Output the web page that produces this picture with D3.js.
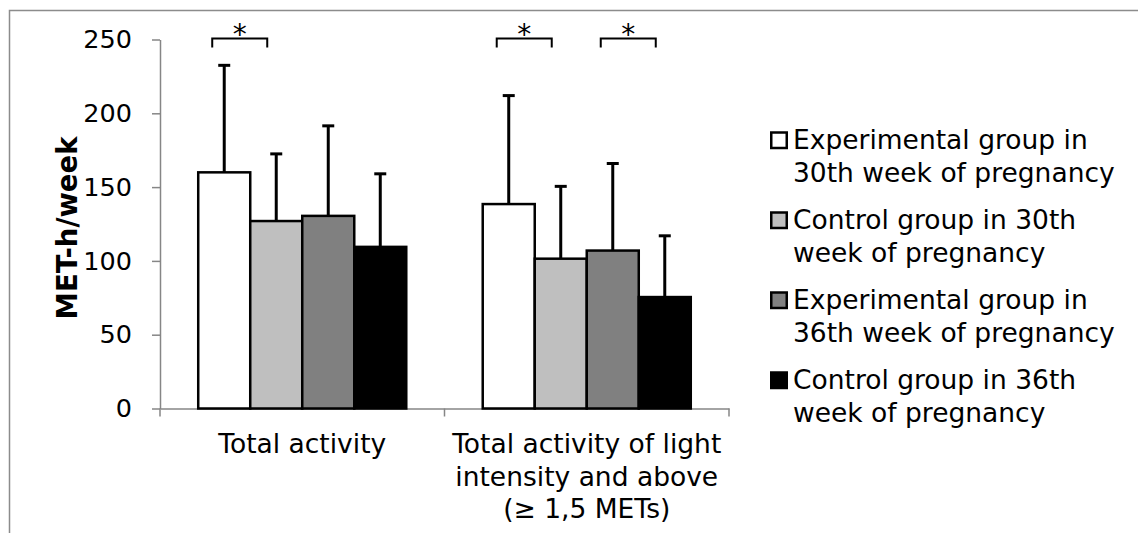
<!DOCTYPE html>
<html>
<head>
<meta charset="utf-8">
<script src="https://cdn.jsdelivr.net/npm/d3@7"></script>
<style>
  body { margin: 0; background: #fff; }
  svg { display: block; }
  svg text { font-family: "DejaVu Sans", Verdana, sans-serif; }
</style>
</head>
<body>
<div class="chart"></div>
<script>
// categories and series
var categories = ["Total activity", "Total activity of light intensity and above (≥ 1,5 METs)"];
var categoryLines = [["Total activity"], ["Total activity of light", "intensity and above", "(≥ 1,5 METs)"]];
var series = ["exp30", "ctl30", "exp36", "ctl36"];
var seriesLabels = [
    ["Experimental group in", "30th week of pregnancy"],
    ["Control group in 30th", "week of pregnancy"],
    ["Experimental group in", "36th week of pregnancy"],
    ["Control group in 36th", "week of pregnancy"]
];
var seriesColors = ["#ffffff", "#bfbfbf", "#808080", "#000000"];
// mean values, per category, in series order
var totalMeans = [160, 127, 130.5, 109.5];
var lightMeans = [138.5, 101.5, 107, 75.5];
// mean + SD (top of error bar)
var totalUpper = [232.5, 172.5, 191.5, 159];
var lightUpper = [212, 150.5, 166, 117];
var yTicks = [0, 50, 100, 150, 200, 250];
// significance brackets: [category index, series a, series b]
var sigPairs = [[0, 0, 1], [1, 0, 1], [1, 2, 3]];

var W = 1138, H = 533;
var margin = { top: 39.5, left: 160, bottom: 124.5 };
var plotRight = 729;
var height = H - margin.top - margin.bottom;
var textSize = "26.5px";

var svg = d3.select(".chart").append("svg")
    .attr("width", W)
    .attr("height", H);

// outer frame (top + left edges visible)
svg.append("path")
    .attr("d", "M9.5,533V10.5H1138")
    .attr("fill", "none")
    .attr("stroke", "#8c8c8c")
    .attr("stroke-width", 1.5);

var x0 = d3.scaleBand()
    .domain(categories)
    .range([margin.left, plotRight])
    .paddingInner(0)
    .paddingOuter(0);

var x1 = d3.scaleBand()
    .domain(series)
    .range([0, x0.bandwidth()])
    .paddingInner(0)
    .paddingOuter(0.735);

var y = d3.scaleLinear()
    .domain([0, 250])
    .range([margin.top + height, margin.top]);

// y axis
var yAxis = svg.append("g")
    .attr("transform", "translate(" + margin.left + ",0)")
    .call(d3.axisLeft(y).tickValues(yTicks).tickSize(8).tickPadding(20).tickSizeOuter(0));
yAxis.attr("font-family", null);
yAxis.select(".domain").attr("stroke", "#868686").attr("stroke-width", 1.5);
yAxis.selectAll(".tick line").attr("stroke", "#868686").attr("stroke-width", 1.5);
yAxis.selectAll(".tick text")
    .attr("fill", "#000")
    .style("font-size", "25.5px");

// x axis line + boundary ticks
var xAxis = svg.append("g")
    .attr("transform", "translate(0," + y(0) + ")")
    .call(d3.axisBottom(x0).tickSize(0).tickFormat(""));
xAxis.select(".domain").attr("stroke", "#868686").attr("stroke-width", 1.5);
var edges = categories.map(function (c) { return x0(c); }).concat([x0(categories[1]) + x0.bandwidth()]);
xAxis.selectAll(".edge")
    .data(edges)
    .enter().append("line")
    .attr("x1", function (d) { return d; })
    .attr("x2", function (d) { return d; })
    .attr("y1", 0)
    .attr("y2", 8)
    .attr("stroke", "#868686")
    .attr("stroke-width", 1.5);

// category labels
categories.forEach(function (c, i) {
    var t = svg.append("text")
        .attr("x", x0(c) + x0.bandwidth() / 2)
        .attr("y", 453)
        .attr("text-anchor", "middle")
        .style("font-size", textSize);
    categoryLines[i].forEach(function (line, j) {
        t.append("tspan")
            .attr("x", x0(c) + x0.bandwidth() / 2)
            .attr("dy", j == 0 ? 0 : 32.5)
            .text(line);
    });
});

var rows = categories.map(function (c, i) {
    var means = i == 0 ? totalMeans : lightMeans;
    var upper = i == 0 ? totalUpper : lightUpper;
    return series.map(function (s, k) {
        return { cat: c, key: s, value: means[k], upper: upper[k], color: seriesColors[k] };
    });
});
var flat = rows[0].concat(rows[1]);

// error bars (upward only)
var errs = svg.append("g").selectAll("g")
    .data(flat)
    .enter().append("g");
errs.append("line")
    .attr("x1", function (d) { return x0(d.cat) + x1(d.key) + x1.bandwidth() / 2; })
    .attr("x2", function (d) { return x0(d.cat) + x1(d.key) + x1.bandwidth() / 2; })
    .attr("y1", function (d) { return y(d.value); })
    .attr("y2", function (d) { return y(d.upper); })
    .attr("stroke", "#000")
    .attr("stroke-width", 3);
errs.append("line")
    .attr("x1", function (d) { return x0(d.cat) + x1(d.key) + x1.bandwidth() / 2 - 6; })
    .attr("x2", function (d) { return x0(d.cat) + x1(d.key) + x1.bandwidth() / 2 + 6; })
    .attr("y1", function (d) { return y(d.upper); })
    .attr("y2", function (d) { return y(d.upper); })
    .attr("stroke", "#000")
    .attr("stroke-width", 3);

// bars
svg.append("g").selectAll("rect")
    .data(flat)
    .enter().append("rect")
    .attr("x", function (d) { return x0(d.cat) + x1(d.key); })
    .attr("y", function (d) { return y(d.value); })
    .attr("width", x1.bandwidth())
    .attr("height", function (d) { return y(0) - y(d.value); })
    .attr("fill", function (d) { return d.color; })
    .attr("stroke", "#000")
    .attr("stroke-width", 2.5);

// significance brackets
function bracketEnds(d) {
    var a = x0(categories[d[0]]) + x1(series[d[1]]) + 14;
    var b = x0(categories[d[0]]) + x1(series[d[2]]) + 17;
    return [a, b];
}
var sig = svg.append("g").selectAll("g")
    .data(sigPairs)
    .enter().append("g");
sig.append("path")
    .attr("d", function (d) {
        var e = bracketEnds(d);
        var top = y(250) - 1;
        return "M" + e[0] + "," + (top + 9) + "V" + top + "H" + e[1] + "V" + (top + 9);
    })
    .attr("fill", "none")
    .attr("stroke", "#000")
    .attr("stroke-width", 2);
sig.append("text")
    .attr("x", function (d) { var e = bracketEnds(d); return (e[0] + e[1]) / 2; })
    .attr("y", 44)
    .attr("text-anchor", "middle")
    .style("font-size", "28px")
    .text("*");

// y axis title
svg.append("text")
    .attr("transform", "translate(77,228) rotate(-90)")
    .attr("text-anchor", "middle")
    .style("font-size", "27.5px")
    .style("font-weight", "bold")
    .text("MET-h/week");

// legend
var legend = svg.append("g").selectAll("g")
    .data(series)
    .enter().append("g")
    .attr("transform", function (d, i) { return "translate(770," + (140 + i * 80) + ")"; });
legend.append("rect")
    .attr("x", 1.25)
    .attr("y", -7.5)
    .attr("width", 15.5)
    .attr("height", 15.5)
    .attr("fill", function (d, i) { return seriesColors[i]; })
    .attr("stroke", "#000")
    .attr("stroke-width", 2.5);
legend.each(function (d, i) {
    var t = d3.select(this).append("text")
        .attr("x", 23)
        .attr("y", 8.5)
        .style("font-size", textSize);
    seriesLabels[i].forEach(function (line, j) {
        t.append("tspan")
            .attr("x", 23)
            .attr("dy", j == 0 ? 0 : 33)
            .text(line);
    });
});
</script>
</body>
</html>
